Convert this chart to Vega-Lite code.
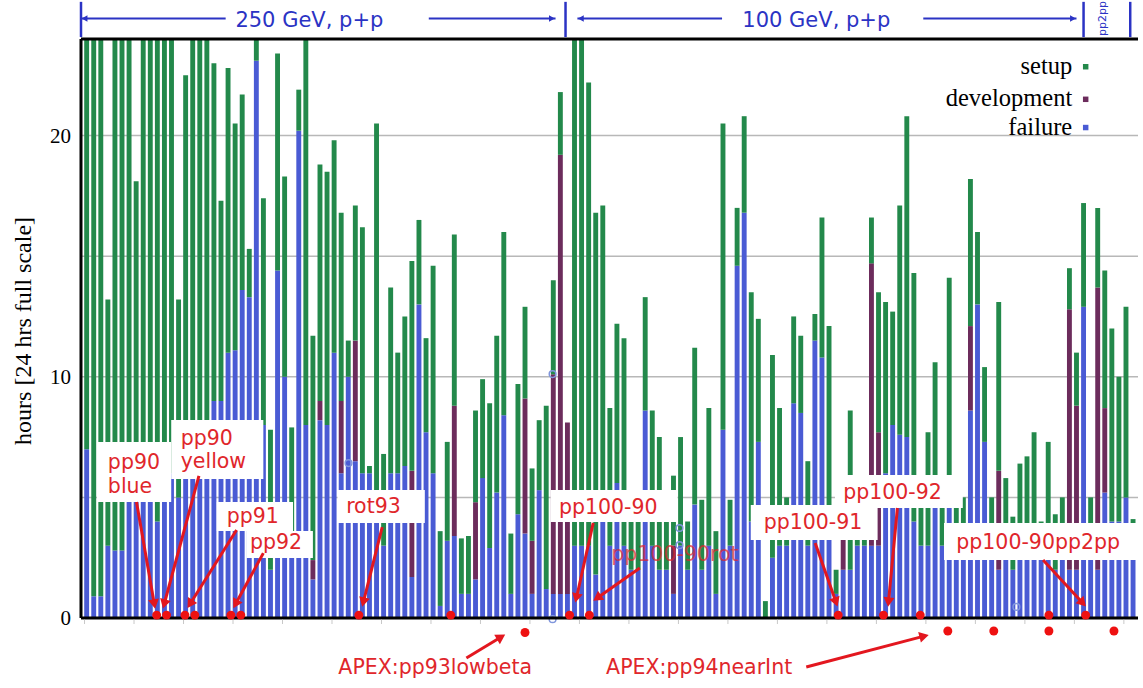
{
  "$schema": "https://vega.github.io/schema/vega-lite/v6.json",
  "width": 1067,
  "height": 579,
  "autosize": {"type": "none"},
  "padding": {"left": 76, "top": 39, "right": 0, "bottom": 70},
  "background": "white",
  "config": {"view": {"stroke": null}, "font": "DejaVu Sans"},
  "datasets": {
    "days": [
      {"day":0,"failure":7,"development":0,"setup":17},
      {"day":1,"failure":0.9,"development":0,"setup":23.1},
      {"day":2,"failure":0.9,"development":0,"setup":23.1},
      {"day":3,"failure":3,"development":0,"setup":10.2},
      {"day":4,"failure":2.8,"development":0,"setup":21.2},
      {"day":5,"failure":2.8,"development":0,"setup":21.2},
      {"day":6,"failure":5,"development":0,"setup":19},
      {"day":7,"failure":6,"development":0,"setup":12.1},
      {"day":8,"failure":5,"development":0,"setup":19},
      {"day":9,"failure":5,"development":0,"setup":19},
      {"day":10,"failure":4,"development":0,"setup":20},
      {"day":11,"failure":5,"development":0,"setup":19},
      {"day":12,"failure":6,"development":0,"setup":18},
      {"day":13,"failure":5,"development":0,"setup":8.2},
      {"day":14,"failure":6,"development":0,"setup":16.5},
      {"day":15,"failure":6,"development":0,"setup":18},
      {"day":16,"failure":6,"development":0,"setup":18},
      {"day":17,"failure":6,"development":0,"setup":18},
      {"day":18,"failure":9,"development":0,"setup":14},
      {"day":19,"failure":9,"development":0,"setup":8.3},
      {"day":20,"failure":11,"development":0,"setup":11.8},
      {"day":21,"failure":11.1,"development":0,"setup":9.4},
      {"day":22,"failure":13.6,"development":0,"setup":8.1},
      {"day":23,"failure":13.3,"development":0,"setup":2},
      {"day":24,"failure":23.1,"development":0,"setup":0.9},
      {"day":25,"failure":8,"development":0,"setup":9.4},
      {"day":26,"failure":2,"development":0,"setup":5.8},
      {"day":27,"failure":14.4,"development":0,"setup":9},
      {"day":28,"failure":10,"development":0,"setup":8.3},
      {"day":29,"failure":3,"development":0,"setup":4.9},
      {"day":30,"failure":20.2,"development":0,"setup":1.7},
      {"day":31,"failure":8,"development":0,"setup":16},
      {"day":32,"failure":1.6,"development":0.8,"setup":9.3},
      {"day":33,"failure":8.2,"development":0.8,"setup":9.8},
      {"day":34,"failure":8,"development":0,"setup":10.5},
      {"day":35,"failure":11,"development":0,"setup":8.8},
      {"day":36,"failure":6,"development":3,"setup":7.8},
      {"day":37,"failure":10,"development":0,"setup":1.5},
      {"day":38,"failure":6.5,"development":5,"setup":5.6},
      {"day":39,"failure":6,"development":0,"setup":10.2},
      {"day":40,"failure":6,"development":0,"setup":0.3},
      {"day":41,"failure":5,"development":0,"setup":15.5},
      {"day":42,"failure":3,"development":0,"setup":3.8},
      {"day":43,"failure":6,"development":0,"setup":7.7},
      {"day":44,"failure":6,"development":0,"setup":5},
      {"day":45,"failure":6.3,"development":0,"setup":6.2},
      {"day":46,"failure":1.7,"development":4.4,"setup":8.7},
      {"day":47,"failure":13,"development":0,"setup":3.5},
      {"day":48,"failure":7.7,"development":0,"setup":3.9},
      {"day":49,"failure":6,"development":0,"setup":8.6},
      {"day":50,"failure":0.5,"development":0,"setup":3.1},
      {"day":51,"failure":3.2,"development":0,"setup":4.1},
      {"day":52,"failure":3.4,"development":5.4,"setup":7.1},
      {"day":53,"failure":1,"development":0,"setup":2.3},
      {"day":54,"failure":1,"development":0,"setup":2.4},
      {"day":55,"failure":1.6,"development":3.2,"setup":3.8},
      {"day":56,"failure":5.8,"development":0,"setup":4.1},
      {"day":57,"failure":2.9,"development":0,"setup":6},
      {"day":58,"failure":5.2,"development":0,"setup":6.5},
      {"day":59,"failure":8.4,"development":0,"setup":7.6},
      {"day":60,"failure":1,"development":0,"setup":2.5},
      {"day":61,"failure":4.3,"development":0,"setup":5.4},
      {"day":62,"failure":3.5,"development":5.6,"setup":3.8},
      {"day":63,"failure":1,"development":2.2,"setup":3},
      {"day":64,"failure":5.3,"development":0,"setup":2.9},
      {"day":65,"failure":1.2,"development":0,"setup":7.6},
      {"day":66,"failure":1,"development":9.1,"setup":3.9},
      {"day":67,"failure":1,"development":18.2,"setup":2.6},
      {"day":68,"failure":1,"development":7.1,"setup":0},
      {"day":69,"failure":3,"development":0,"setup":21},
      {"day":70,"failure":3,"development":0,"setup":21},
      {"day":71,"failure":3,"development":0,"setup":19.2},
      {"day":72,"failure":1.8,"development":0,"setup":15},
      {"day":73,"failure":4,"development":0,"setup":13.1},
      {"day":74,"failure":3,"development":0,"setup":5.7},
      {"day":75,"failure":5.6,"development":0,"setup":6.6},
      {"day":76,"failure":3,"development":0,"setup":8.6},
      {"day":77,"failure":2,"development":0,"setup":2},
      {"day":78,"failure":2,"development":0,"setup":3},
      {"day":79,"failure":8.6,"development":0,"setup":4.7},
      {"day":80,"failure":3,"development":0,"setup":5.6},
      {"day":81,"failure":2,"development":0,"setup":5.5},
      {"day":82,"failure":2,"development":0,"setup":2},
      {"day":83,"failure":1,"development":2,"setup":2.9},
      {"day":84,"failure":3,"development":0,"setup":4.5},
      {"day":85,"failure":2,"development":0,"setup":2},
      {"day":86,"failure":4.7,"development":0,"setup":6.5},
      {"day":87,"failure":2,"development":0,"setup":2.9},
      {"day":88,"failure":3,"development":0,"setup":5.7},
      {"day":89,"failure":1,"development":0,"setup":2.6},
      {"day":90,"failure":7.8,"development":0,"setup":12.7},
      {"day":91,"failure":3,"development":0,"setup":1.9},
      {"day":92,"failure":14.6,"development":0,"setup":2.4},
      {"day":93,"failure":16.8,"development":0,"setup":4},
      {"day":94,"failure":4,"development":0,"setup":9.5},
      {"day":95,"failure":7.3,"development":0,"setup":5.1},
      {"day":96,"failure":0,"development":0,"setup":0.7},
      {"day":97,"failure":2.5,"development":0,"setup":8.4},
      {"day":98,"failure":3,"development":0,"setup":5.7},
      {"day":99,"failure":3,"development":0,"setup":2},
      {"day":100,"failure":8.9,"development":0,"setup":3.6},
      {"day":101,"failure":8.5,"development":0,"setup":3.2},
      {"day":102,"failure":3,"development":0,"setup":3.5},
      {"day":103,"failure":11.5,"development":0,"setup":1.1},
      {"day":104,"failure":10.8,"development":0,"setup":5.8},
      {"day":105,"failure":4,"development":0,"setup":8.1},
      {"day":106,"failure":1,"development":0,"setup":1},
      {"day":107,"failure":2,"development":2,"setup":1},
      {"day":108,"failure":2,"development":0,"setup":6.6},
      {"day":109,"failure":3,"development":0,"setup":2},
      {"day":110,"failure":3,"development":0,"setup":2},
      {"day":111,"failure":3,"development":11.7,"setup":1.9},
      {"day":112,"failure":3,"development":4.7,"setup":5.8},
      {"day":113,"failure":6,"development":0,"setup":7.1},
      {"day":114,"failure":8,"development":0,"setup":4.7},
      {"day":115,"failure":7.6,"development":0,"setup":9.5},
      {"day":116,"failure":7.5,"development":0,"setup":13.3},
      {"day":117,"failure":4,"development":0,"setup":10.3},
      {"day":118,"failure":3,"development":0,"setup":2},
      {"day":119,"failure":3,"development":0,"setup":4.7},
      {"day":120,"failure":5,"development":0,"setup":5.6},
      {"day":121,"failure":3,"development":0,"setup":2},
      {"day":122,"failure":5,"development":0,"setup":9.1},
      {"day":123,"failure":3,"development":0,"setup":2},
      {"day":124,"failure":3,"development":0,"setup":2},
      {"day":125,"failure":8.6,"development":3.5,"setup":6.1},
      {"day":126,"failure":13,"development":0,"setup":3},
      {"day":127,"failure":7.3,"development":0,"setup":3.1},
      {"day":128,"failure":3,"development":0,"setup":2},
      {"day":129,"failure":2,"development":4.1,"setup":7},
      {"day":130,"failure":3,"development":0,"setup":2.8},
      {"day":131,"failure":2,"development":0,"setup":2.2},
      {"day":132,"failure":3,"development":0,"setup":3.4},
      {"day":133,"failure":3,"development":0,"setup":3.7},
      {"day":134,"failure":3,"development":0,"setup":4.7},
      {"day":135,"failure":3,"development":0,"setup":1},
      {"day":136,"failure":3,"development":0,"setup":4.3},
      {"day":137,"failure":2,"development":0,"setup":2.3},
      {"day":138,"failure":3,"development":0,"setup":2},
      {"day":139,"failure":2,"development":10.8,"setup":1.7},
      {"day":140,"failure":2,"development":6.8,"setup":2.2},
      {"day":141,"failure":12.9,"development":0,"setup":4.3},
      {"day":142,"failure":3,"development":0,"setup":2},
      {"day":143,"failure":2,"development":11.7,"setup":3.3},
      {"day":144,"failure":5.2,"development":3.5,"setup":5.7},
      {"day":145,"failure":4,"development":0,"setup":8},
      {"day":146,"failure":4,"development":0,"setup":6},
      {"day":147,"failure":5,"development":0,"setup":7.9},
      {"day":148,"failure":3,"development":0,"setup":1.1}
    ],
    "series": [
      {"series":"failure","rank":0},
      {"series":"development","rank":1},
      {"series":"setup","rank":2}
    ],
    "gridValues": [{"y":5},{"y":10},{"y":15},{"y":20}],
    "yLabels": [{"y":0,"label":"0"},{"y":10,"label":"10"},{"y":20,"label":"20"}],
    "xTicks": [{"x":-0.3},{"x":6.7},{"x":13.7},{"x":20.7},{"x":27.7},{"x":34.7},{"x":41.7},{"x":48.7},{"x":55.7},{"x":62.7},{"x":69.7},{"x":76.7},{"x":83.7},{"x":90.7},{"x":97.7},{"x":104.7},{"x":111.7},{"x":118.7},{"x":125.7},{"x":132.7},{"x":139.7},{"x":146.7}],
    "yTitle": [{"label":"hours [24 hrs full scale]"}],
    "hiddenNote": [{"label":"pp100-90rot","x":74.2,"y":2.61}],
    "markers": [
      {"x":37.04,"y":6.42},{"x":65.9,"y":10.11},{"x":83.85,"y":3.73},{"x":83.85,"y":3.02},{"x":65.9,"y":-0.05},{"x":131.5,"y":0.46}
    ],
    "notes": [
      {"label":"pp90","x":3.0,"y":6.42},
      {"label":"blue","x":3.0,"y":5.43},
      {"label":"pp90","x":13.3,"y":7.42},
      {"label":"yellow","x":13.3,"y":6.47},
      {"label":"pp91","x":19.8,"y":4.19},
      {"label":"pp92","x":23.1,"y":3.11},
      {"label":"rot93","x":36.7,"y":4.6},
      {"label":"pp100-90","x":66.8,"y":4.56},
      {"label":"pp100-91","x":95.75,"y":3.94},
      {"label":"pp100-92","x":107.0,"y":5.18},
      {"label":"pp100-90pp2pp","x":123.0,"y":3.11},
      {"label":"APEX:pp93lowbeta","x":35.6,"y":-2.07},
      {"label":"APEX:pp94nearInt","x":73.47,"y":-2.07}
    ],
    "boxes": [
      {"x":1.46,"x2":11.96,"y":7.3,"y2":4.81},
      {"x":11.96,"x2":24.99,"y":8.21,"y2":5.76},
      {"x":18.4,"x2":29.19,"y":4.81,"y2":3.61},
      {"x":22.61,"x2":32.0,"y":3.61,"y2":2.49},
      {"x":35.49,"x2":47.83,"y":5.31,"y2":3.94},
      {"x":65.62,"x2":83.57,"y":5.31,"y2":3.98},
      {"x":93.93,"x2":111.87,"y":4.68,"y2":3.23},
      {"x":105.84,"x2":123.92,"y":5.93,"y2":4.56},
      {"x":121.26,"x2":149.7,"y":3.94,"y2":2.4}
    ],
    "arrows": [
      {"x":7.05,"y":4.81,"x2":9.57,"y2":0.58},
      {"x":15.88,"y":5.89,"x2":10.97,"y2":0.58},
      {"x":21.2,"y":3.65,"x2":14.62,"y2":0.58},
      {"x":24.99,"y":2.69,"x2":21.06,"y2":0.58},
      {"x":41.8,"y":3.77,"x2":39.14,"y2":0.66},
      {"x":71.65,"y":3.94,"x2":69.27,"y2":0.83},
      {"x":78.24,"y":2.07,"x2":72.21,"y2":0.83},
      {"x":103.04,"y":3.11,"x2":105.98,"y2":0.66},
      {"x":114.67,"y":4.56,"x2":113.41,"y2":0.66},
      {"x":135.27,"y":2.4,"x2":140.88,"y2":0.62},
      {"x":53.71,"y":-1.66,"x2":58.62,"y2":-0.79},
      {"x":101.78,"y":-2.03,"x2":118.45,"y2":-0.75}
    ],
    "dots": [
      {"x":9.9,"y":0.12},{"x":11.3,"y":0.12},{"x":13.9,"y":0.12},{"x":15.3,"y":0.12},
      {"x":20.4,"y":0.12},{"x":21.8,"y":0.12},{"x":38.5,"y":0.12},{"x":51.5,"y":0.12},
      {"x":68.3,"y":0.12},{"x":71.1,"y":0.12},{"x":106.3,"y":0.12},{"x":112.7,"y":0.12},
      {"x":117.9,"y":0.12},{"x":136.1,"y":0.12},{"x":141.3,"y":0.12},
      {"x":62.0,"y":-0.6},{"x":121.8,"y":-0.54},{"x":128.3,"y":-0.54},{"x":136.1,"y":-0.54},{"x":145.3,"y":-0.54}
    ],
    "legend": [
      {"label":"setup","series":"setup","y":22.85},
      {"label":"development","series":"development","y":21.5},
      {"label":"failure","series":"failure","y":20.33}
    ],
    "headerText": [
      {"label":"250 GeV, p+p","x":31.5,"y":24.75},
      {"label":"100 GeV, p+p","x":103.2,"y":24.75}
    ],
    "headerLines": [
      {"x":-0.8,"x2":19.66},{"x":48.39,"x2":66.32},{"x":69.41,"x2":89.87},{"x":118.33,"x2":140.0}
    ],
    "headerBars": [{"x":-0.8},{"x":67.73},{"x":141.0},{"x":147.6}],
    "headerHeads": [
      {"x":-0.3,"dir":"left"},{"x":65.8,"dir":"right"},{"x":69.9,"dir":"left"},{"x":139.5,"dir":"right"}
    ],
    "pp2pp": [{"label":"pp2pp","x":143.7,"y":24.85}],
    "frame": [{"x":-0.8,"x2":148.7,"y":24}]
  },
  "layer": [
    {
      "data": {"name": "gridValues"},
      "mark": {"type": "rule", "color": "#b8b8b8", "strokeWidth": 1.5},
      "encoding": {
        "x": {"datum": -0.8, "type": "quantitative", "scale": {"domain": [-0.8, 148.7], "nice": false, "zero": false}, "axis": null},
        "x2": {"datum": 148.7},
        "y": {"field": "y", "type": "quantitative", "scale": {"domain": [0, 24], "nice": false, "zero": false}, "axis": null}
      }
    },
    {
      "data": {"name": "days"},
      "transform": [
        {"fold": ["failure", "development", "setup"], "as": ["series", "hours"]},
        {"lookup": "series", "from": {"data": {"name": "series"}, "key": "series", "fields": ["rank"]}}
      ],
      "mark": {"type": "bar", "width": 4.9},
      "encoding": {
        "x": {"field": "day", "type": "quantitative", "scale": {"domain": [-0.8, 148.7], "nice": false, "zero": false}, "axis": null},
        "y": {"field": "hours", "type": "quantitative", "stack": "zero", "scale": {"domain": [0, 24], "nice": false, "zero": false}, "axis": null},
        "color": {"field": "series", "type": "nominal", "scale": {"domain": ["setup", "development", "failure"], "range": ["#23894b", "#6c2c5c", "#4a5bd4"]}, "legend": null},
        "order": {"field": "rank", "type": "quantitative"}
      }
    },
    {
      "data": {"name": "hiddenNote"},
      "mark": {"type": "text", "align": "left", "baseline": "middle", "fontSize": 20.5, "color": "#e0262b", "font": "DejaVu Sans", "opacity": 0.7},
      "encoding": {
        "x": {"field": "x", "type": "quantitative", "scale": {"domain": [-0.8, 148.7], "nice": false, "zero": false}, "axis": null},
        "y": {"field": "y", "type": "quantitative", "scale": {"domain": [0, 24], "nice": false, "zero": false}, "axis": null},
        "text": {"field": "label"}
      }
    },
    {
      "data": {"name": "markers"},
      "mark": {"type": "point", "shape": "circle", "filled": false, "size": 45, "color": "#8096dc", "strokeWidth": 1.5, "opacity": 1},
      "encoding": {
        "x": {"field": "x", "type": "quantitative", "scale": {"domain": [-0.8, 148.7], "nice": false, "zero": false}, "axis": null},
        "y": {"field": "y", "type": "quantitative", "scale": {"domain": [0, 24], "nice": false, "zero": false}, "axis": null}
      }
    },
    {
      "data": {"name": "boxes"},
      "mark": {"type": "rect", "color": "white"},
      "encoding": {
        "x": {"field": "x", "type": "quantitative", "scale": {"domain": [-0.8, 148.7], "nice": false, "zero": false}, "axis": null},
        "x2": {"field": "x2"},
        "y": {"field": "y", "type": "quantitative", "scale": {"domain": [0, 24], "nice": false, "zero": false}, "axis": null},
        "y2": {"field": "y2"}
      }
    },
    {
      "data": {"name": "notes"},
      "mark": {"type": "text", "align": "left", "baseline": "middle", "fontSize": 20.5, "color": "#e0262b", "font": "DejaVu Sans"},
      "encoding": {
        "x": {"field": "x", "type": "quantitative", "scale": {"domain": [-0.8, 148.7], "nice": false, "zero": false}, "axis": null},
        "y": {"field": "y", "type": "quantitative", "scale": {"domain": [0, 24], "nice": false, "zero": false}, "axis": null},
        "text": {"field": "label"}
      }
    },
    {
      "data": {"name": "arrows"},
      "mark": {"type": "rule", "color": "#e3171f", "strokeWidth": 3},
      "encoding": {
        "x": {"field": "x", "type": "quantitative", "scale": {"domain": [-0.8, 148.7], "nice": false, "zero": false}, "axis": null},
        "x2": {"field": "x2"},
        "y": {"field": "y", "type": "quantitative", "scale": {"domain": [0, 24], "nice": false, "zero": false}, "axis": null},
        "y2": {"field": "y2"}
      }
    },
    {
      "data": {"name": "arrows"},
      "transform": [{"calculate": "atan2((datum.x2 - datum.x) * 7.136, (datum.y2 - datum.y) * 24.125) * 180 / PI", "as": "angle"}],
      "mark": {"type": "point", "shape": "triangle-up", "filled": true, "size": 120, "color": "#e3171f", "opacity": 1},
      "encoding": {
        "x": {"field": "x2", "type": "quantitative", "scale": {"domain": [-0.8, 148.7], "nice": false, "zero": false}, "axis": null},
        "y": {"field": "y2", "type": "quantitative", "scale": {"domain": [0, 24], "nice": false, "zero": false}, "axis": null},
        "angle": {"field": "angle", "type": "quantitative", "scale": null}
      }
    },
    {
      "data": {"name": "frame"},
      "mark": {"type": "rule", "color": "black", "strokeWidth": 3},
      "encoding": {
        "x": {"field": "x", "type": "quantitative", "scale": {"domain": [-0.8, 148.7], "nice": false, "zero": false}, "axis": null},
        "x2": {"field": "x2"},
        "y": {"field": "y", "type": "quantitative", "scale": {"domain": [0, 24], "nice": false, "zero": false}, "axis": null}
      }
    },
    {
      "data": {"name": "frame"},
      "mark": {"type": "rule", "color": "black", "strokeWidth": 3},
      "encoding": {
        "x": {"field": "x", "type": "quantitative", "scale": {"domain": [-0.8, 148.7], "nice": false, "zero": false}, "axis": null},
        "x2": {"field": "x2"},
        "y": {"datum": 0, "type": "quantitative", "scale": {"domain": [0, 24], "nice": false, "zero": false}, "axis": null}
      }
    },
    {
      "data": {"name": "frame"},
      "mark": {"type": "rule", "color": "black", "strokeWidth": 3},
      "encoding": {
        "x": {"field": "x", "type": "quantitative", "scale": {"domain": [-0.8, 148.7], "nice": false, "zero": false}, "axis": null},
        "y": {"datum": 0, "type": "quantitative", "scale": {"domain": [0, 24], "nice": false, "zero": false}, "axis": null},
        "y2": {"datum": 24}
      }
    },
    {
      "data": {"name": "xTicks"},
      "mark": {"type": "rule", "color": "#c8c8c8", "strokeWidth": 1},
      "encoding": {
        "x": {"field": "x", "type": "quantitative", "scale": {"domain": [-0.8, 148.7], "nice": false, "zero": false}, "axis": null},
        "y": {"datum": -0.07, "type": "quantitative", "scale": {"domain": [0, 24], "nice": false, "zero": false}, "axis": null},
        "y2": {"datum": -0.25}
      }
    },
    {
      "data": {"name": "yLabels"},
      "mark": {"type": "text", "align": "right", "baseline": "middle", "fontSize": 21, "font": "Liberation Serif", "color": "black", "dx": -10, "dy": 1},
      "encoding": {
        "x": {"datum": -0.8, "type": "quantitative", "scale": {"domain": [-0.8, 148.7], "nice": false, "zero": false}, "axis": null},
        "y": {"field": "y", "type": "quantitative", "scale": {"domain": [0, 24], "nice": false, "zero": false}, "axis": null},
        "text": {"field": "label"}
      }
    },
    {
      "data": {"name": "yTitle"},
      "mark": {"type": "text", "align": "center", "baseline": "middle", "fontSize": 24, "font": "Liberation Serif", "color": "black", "angle": 270},
      "encoding": {
        "x": {"datum": -8.8, "type": "quantitative", "scale": {"domain": [-0.8, 148.7], "nice": false, "zero": false}, "axis": null},
        "y": {"datum": 11.9, "type": "quantitative", "scale": {"domain": [0, 24], "nice": false, "zero": false}, "axis": null},
        "text": {"field": "label"}
      }
    },
    {
      "data": {"name": "dots"},
      "mark": {"type": "point", "shape": "circle", "filled": true, "size": 80, "color": "#ee1111", "opacity": 1},
      "encoding": {
        "x": {"field": "x", "type": "quantitative", "scale": {"domain": [-0.8, 148.7], "nice": false, "zero": false}, "axis": null},
        "y": {"field": "y", "type": "quantitative", "scale": {"domain": [0, 24], "nice": false, "zero": false}, "axis": null}
      }
    },
    {
      "data": {"name": "legend"},
      "mark": {"type": "text", "align": "right", "baseline": "middle", "fontSize": 24.5, "font": "Liberation Serif", "color": "black"},
      "encoding": {
        "x": {"datum": 139.4, "type": "quantitative", "scale": {"domain": [-0.8, 148.7], "nice": false, "zero": false}, "axis": null},
        "y": {"field": "y", "type": "quantitative", "scale": {"domain": [0, 24], "nice": false, "zero": false}, "axis": null},
        "text": {"field": "label"}
      }
    },
    {
      "data": {"name": "legend"},
      "mark": {"type": "point", "shape": "square", "filled": true, "size": 30, "opacity": 1},
      "encoding": {
        "x": {"datum": 141.3, "type": "quantitative", "scale": {"domain": [-0.8, 148.7], "nice": false, "zero": false}, "axis": null},
        "y": {"field": "y", "type": "quantitative", "scale": {"domain": [0, 24], "nice": false, "zero": false}, "axis": null},
        "color": {"field": "series", "type": "nominal", "scale": {"domain": ["setup", "development", "failure"], "range": ["#23894b", "#6c2c5c", "#4a5bd4"]}, "legend": null}
      }
    },
    {
      "data": {"name": "headerText"},
      "mark": {"type": "text", "align": "center", "baseline": "middle", "fontSize": 21, "font": "DejaVu Sans", "color": "#2b33c4"},
      "encoding": {
        "x": {"field": "x", "type": "quantitative", "scale": {"domain": [-0.8, 148.7], "nice": false, "zero": false}, "axis": null},
        "y": {"field": "y", "type": "quantitative", "scale": {"domain": [0, 24], "nice": false, "zero": false}, "axis": null},
        "text": {"field": "label"}
      }
    },
    {
      "data": {"name": "headerLines"},
      "mark": {"type": "rule", "color": "#2b33c4", "strokeWidth": 2},
      "encoding": {
        "x": {"field": "x", "type": "quantitative", "scale": {"domain": [-0.8, 148.7], "nice": false, "zero": false}, "axis": null},
        "x2": {"field": "x2"},
        "y": {"datum": 24.85, "type": "quantitative", "scale": {"domain": [0, 24], "nice": false, "zero": false}, "axis": null}
      }
    },
    {
      "data": {"name": "headerBars"},
      "mark": {"type": "rule", "color": "#2b33c4", "strokeWidth": 2.5},
      "encoding": {
        "x": {"field": "x", "type": "quantitative", "scale": {"domain": [-0.8, 148.7], "nice": false, "zero": false}, "axis": null},
        "y": {"datum": 24.08, "type": "quantitative", "scale": {"domain": [0, 24], "nice": false, "zero": false}, "axis": null},
        "y2": {"datum": 25.54}
      }
    },
    {
      "data": {"name": "headerHeads"},
      "mark": {"type": "point", "filled": true, "size": 45, "color": "#2b33c4", "opacity": 1},
      "encoding": {
        "x": {"field": "x", "type": "quantitative", "scale": {"domain": [-0.8, 148.7], "nice": false, "zero": false}, "axis": null},
        "y": {"datum": 24.85, "type": "quantitative", "scale": {"domain": [0, 24], "nice": false, "zero": false}, "axis": null},
        "shape": {"field": "dir", "type": "nominal", "scale": {"domain": ["left", "right"], "range": ["triangle-left", "triangle-right"]}, "legend": null}
      }
    },
    {
      "data": {"name": "pp2pp"},
      "mark": {"type": "text", "align": "center", "baseline": "middle", "fontSize": 11, "angle": 270, "font": "DejaVu Sans", "color": "#2b33c4"},
      "encoding": {
        "x": {"field": "x", "type": "quantitative", "scale": {"domain": [-0.8, 148.7], "nice": false, "zero": false}, "axis": null},
        "y": {"field": "y", "type": "quantitative", "scale": {"domain": [0, 24], "nice": false, "zero": false}, "axis": null},
        "text": {"field": "label"}
      }
    }
  ]
}
